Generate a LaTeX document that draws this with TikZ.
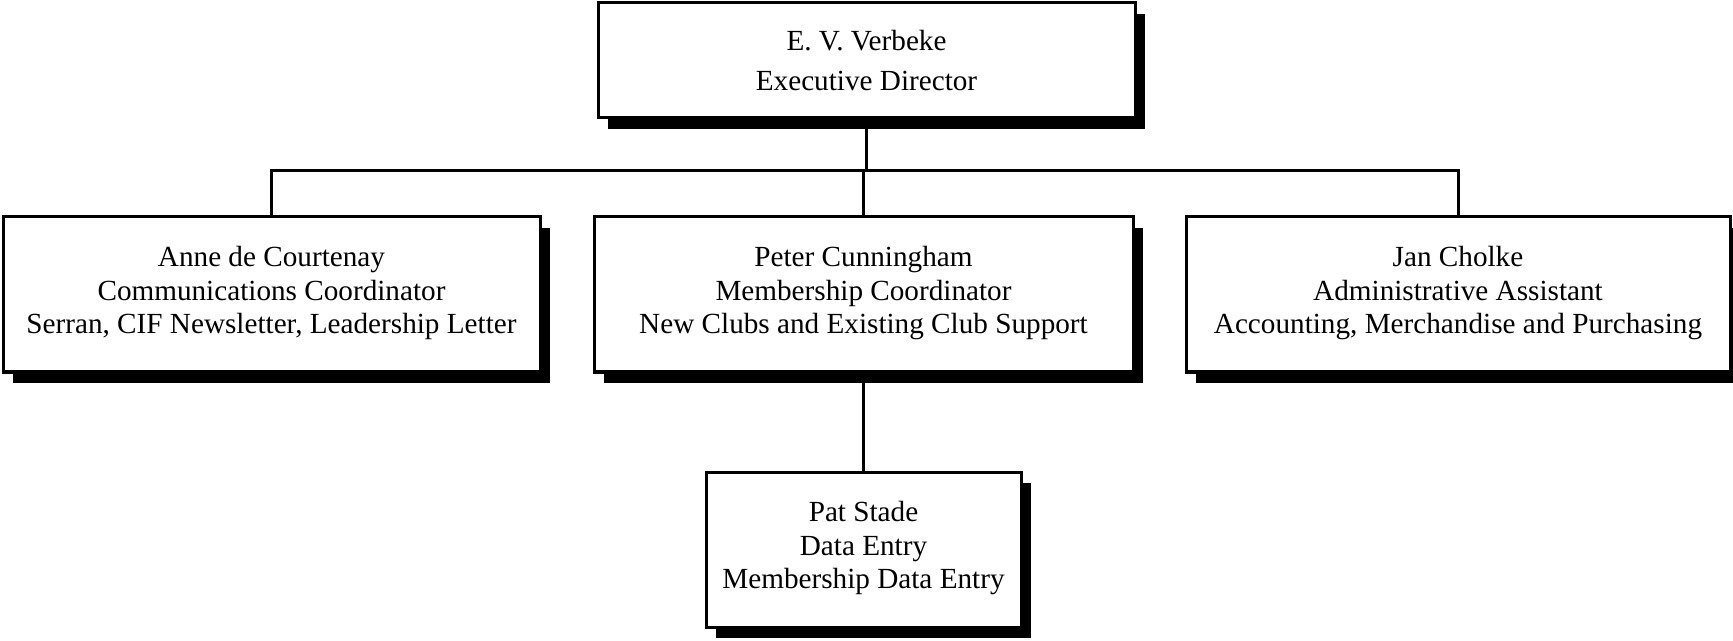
\documentclass[tikz,border=0pt]{standalone}
\usepackage{fontspec}
\setmainfont{Liberation Serif}
\usetikzlibrary{shadows}
\newcommand{\lowpad}{\rule[-4.5pt]{0pt}{0pt}}
\tikzset{
  post/.style={draw, line width=1.5pt, fill=white, align=center, inner sep=0pt,
    font=\fontsize{14.6}{16.75}\selectfont,
    drop shadow={shadow xshift=5pt, shadow yshift=-5.5pt, fill=black, opacity=1}},
  link/.style={line width=1.5pt}
}
\begin{document}
\begin{tikzpicture}[x=0.5pt,y=-0.5pt]
\useasboundingbox (0,0) rectangle (1733,641);
\node[post, minimum width=268.5pt, minimum height=57.5pt, font=\fontsize{14.6}{20.25}\selectfont] (exec) at (866.5,60.5) {E. V. Verbeke\\Executive Director};
\node[post, minimum width=268.5pt, minimum height=77.5pt] (comm) at (271.5,294.5) {Anne de Courtenay\\Communications Coordinator\\Serran, CIF Newsletter, Leadership Letter\lowpad};
\node[post, minimum width=269.5pt, minimum height=77.5pt] (memb) at (863.5,294.5) {Peter Cunningham\\Membership Coordinator\\New Clubs and Existing Club Support\lowpad};
\node[post, minimum width=272pt, minimum height=77.5pt] (admin) at (1458,294.5) {Jan Cholke\\Administrative Assistant\\Accounting, Merchandise and Purchasing\lowpad};
\node[post, minimum width=157.5pt, minimum height=77.5pt] (data) at (863.5,549.5) {Pat Stade\\Data Entry\\Membership Data Entry\lowpad};
\coordinate (bus) at (866,171);
% org lines
\draw[link] (exec.south) -- (exec.south |- bus);
\draw[link] (comm.north) -- (comm.north |- bus) -- (admin.north |- bus) -- (admin.north);
\draw[link] (memb.north |- bus) -- (memb.north);
\draw[link] (memb.south) -- (data.north);
\end{tikzpicture}
\end{document}
